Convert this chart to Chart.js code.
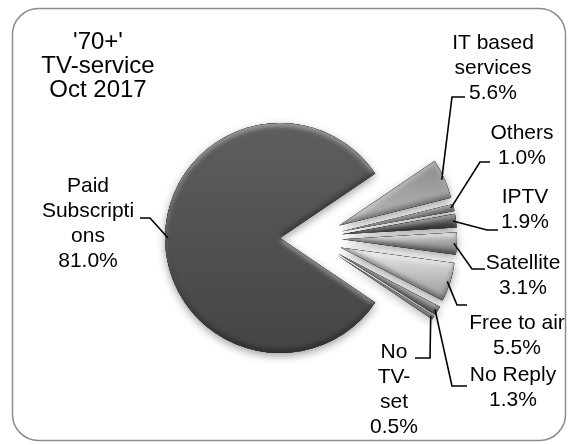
<!DOCTYPE html>
<html>
<head>
<meta charset="utf-8">
<script src="https://cdn.jsdelivr.net/npm/chart.js@4.4.0/dist/chart.umd.min.js"></script>
<style>
  html, body { margin: 0; padding: 0; background: #ffffff; }
  canvas { display: block; }
</style>
</head>
<body>
<canvas id="tvChart" width="572" height="445"></canvas>
<script>
// TV-service among people aged 70+, October 2017 (share of respondents, %)
const categories = ['Paid Subscriptions', 'IT based services', 'Others', 'IPTV', 'Satellite', 'Free to air', 'No Reply', 'No TV-set'];
const shares = [81.0, 5.6, 1.0, 1.9, 3.1, 5.5, 1.3, 0.5];
// how each category name wraps inside its label box
const wrappedNames = [['Paid', 'Subscripti', 'ons'], ['IT based', 'services'], ['Others'], ['IPTV'], ['Satellite'], ['Free to air'], ['No Reply'], ['No', 'TV-', 'set']];
const titleLines = ["'70+'", 'TV-service', 'Oct 2017'];

// ---- styling ----
const FONT = "21px 'Liberation Sans', Arial, sans-serif";
const TITLE_FONT = "24px 'Liberation Sans', Arial, sans-serif";
const LINE_H = 25;
const PIE_RADIUS = 115;
const EXPLODE = 31;          // distance every slice is pulled away from the pie centre, px
// top -> bottom shade of each slice
const sliceShades = [
  ['#5e5e5e', '#444444'],
  ['#8a8a8a', '#bababa'],
  ['#7c7c7c', '#b4b4b4'],
  ['#6a6a6a', '#3c3c3c'],
  ['#d2d2d2', '#6e6e6e'],
  ['#ececec', '#979797'],
  ['#a0a0a0', '#6e6e6e'],
  ['#bcbcbc', '#7e7e7e']
];
// label placement: text centre x, first line centre y, leader line points (text end first)
const labelLayout = [
  { x: 88,  y: 186, leader: [[140, 218], [150, 218]] },
  { x: 493, y: 43,  leader: [[465, 97], [452, 97]] },
  { x: 522, y: 133, leader: [[490, 162], [480, 162]] },
  { x: 525, y: 197, leader: [[498, 230], [487, 230]] },
  { x: 523, y: 263, leader: [[485, 269], [472, 269]] },
  { x: 517, y: 323, leader: [[467, 305], [457, 305]] },
  { x: 513, y: 375, leader: [[467, 386], [452, 386]] },
  { x: 394, y: 352, leader: [[415, 358], [430, 358]] }
];
const titleBox = { x: 98, y: 42 };

// ---- geometry helpers ----
const TAU = Math.PI * 2;
const total = shares.reduce((a, b) => a + b, 0);
// rotate so the gap left by the big slice opens straight to the right
const rotationDeg = 90 + (total - shares[0]) / total * 180;
const startRad = -Math.PI / 2 + rotationDeg * Math.PI / 180;
const sweep = shares.map(v => v / total * TAU);

function sliceAngles(i) {
  let a0 = startRad;
  for (let k = 0; k < i; k++) a0 += sweep[k];
  return [a0, a0 + sweep[i]];
}

function sliceFill(context) {
  const chart = context.chart;
  const area = chart.chartArea;
  const i = context.dataIndex;
  const pair = sliceShades[i];
  if (!area) return pair[0];
  const [a0, a1] = sliceAngles(i);
  const cy = (area.top + area.bottom) / 2 + Math.sin((a0 + a1) / 2) * EXPLODE;
  let lo = 0, hi = 0;
  for (let t = a0; t <= a1 + 1e-6; t += 0.005) {
    const s = Math.sin(t);
    if (s < lo) lo = s;
    if (s > hi) hi = s;
  }
  const g = chart.ctx.createLinearGradient(0, cy + PIE_RADIUS * lo, 0, cy + PIE_RADIUS * hi);
  g.addColorStop(0, pair[0]);
  g.addColorStop(1, pair[1]);
  return g;
}

function arcPath(ctx, arc) {
  ctx.moveTo(arc.x, arc.y);
  ctx.arc(arc.x, arc.y, arc.outerRadius, arc.startAngle, arc.endAngle);
  ctx.closePath();
}

// explode every slice outward along its own bisector, keeping its full angle and radius
const explodePlugin = {
  id: 'explode',
  afterDatasetUpdate(chart, args) {
    chart.getDatasetMeta(args.index).data.forEach(arc => {
      const mid = (arc.startAngle + arc.endAngle) / 2;
      arc.x += Math.cos(mid) * EXPLODE;
      arc.y += Math.sin(mid) * EXPLODE;
    });
  }
};

// frame, title, drop shadow, bevelled rims, leader lines and labels
const decorPlugin = {
  id: 'decor',
  beforeDraw(chart) {
    const ctx = chart.ctx;
    ctx.save();
    ctx.fillStyle = '#ffffff';
    ctx.fillRect(0, 0, chart.width, chart.height);
    ctx.strokeStyle = '#8c8c8c';
    ctx.lineWidth = 1.5;
    ctx.beginPath();
    ctx.roundRect(12.5, 8.5, 553, 432, 26);
    ctx.stroke();
    ctx.fillStyle = '#000';
    ctx.font = TITLE_FONT;
    ctx.textAlign = 'center';
    ctx.textBaseline = 'middle';
    titleLines.forEach((t, k) => ctx.fillText(t, titleBox.x, titleBox.y + k * 24));
    ctx.restore();
  },
  beforeDatasetsDraw(chart) {
    const ctx = chart.ctx;
    ctx.save();
    ctx.shadowColor = 'rgba(0,0,0,0.38)';
    ctx.shadowBlur = 8;
    ctx.shadowOffsetX = 0;
    ctx.shadowOffsetY = 3;
  },
  afterDatasetsDraw(chart) {
    const ctx = chart.ctx;
    ctx.restore();
    const arcs = chart.getDatasetMeta(0).data;
    // inner bevel: light from above, dark from below
    arcs.forEach(arc => {
      ctx.save();
      ctx.beginPath();
      arcPath(ctx, arc);
      ctx.clip();
      const frame = () => {
        ctx.beginPath();
        ctx.rect(-2000, -2000, 5000, 5000);
        arcPath(ctx, arc);
      };
      ctx.fillStyle = '#000';
      ctx.shadowBlur = 5;
      ctx.shadowOffsetX = 0;
      ctx.shadowColor = 'rgba(255,255,255,0.45)';
      ctx.shadowOffsetY = 3;
      frame();
      ctx.fill('evenodd');
      ctx.shadowColor = 'rgba(0,0,0,0.4)';
      ctx.shadowOffsetY = -3;
      frame();
      ctx.fill('evenodd');
      ctx.restore();
    });
    ctx.save();
    ctx.strokeStyle = '#000';
    ctx.lineWidth = 1.6;
    ctx.fillStyle = '#000';
    ctx.font = FONT;
    ctx.textAlign = 'center';
    ctx.textBaseline = 'middle';
    arcs.forEach((arc, i) => {
      const mid = (arc.startAngle + arc.endAngle) / 2;
      const r = arc.outerRadius - 3;
      const ax = arc.x + Math.cos(mid) * r;
      const ay = arc.y + Math.sin(mid) * r;
      const L = labelLayout[i];
      ctx.beginPath();
      ctx.moveTo(L.leader[0][0], L.leader[0][1]);
      ctx.lineTo(L.leader[1][0], L.leader[1][1]);
      ctx.lineTo(ax, ay);
      ctx.stroke();
      const lines = wrappedNames[i].concat([shares[i].toFixed(1) + '%']);
      lines.forEach((t, k) => ctx.fillText(t, L.x, L.y + k * LINE_H));
    });
    ctx.restore();
  }
};

new Chart(document.getElementById('tvChart'), {
  type: 'pie',
  data: {
    labels: categories,
    datasets: [{
      data: shares,
      radius: PIE_RADIUS,
      backgroundColor: sliceFill,
      borderWidth: 0
    }]
  },
  options: {
    responsive: false,
    animation: false,
    devicePixelRatio: 1,
    rotation: rotationDeg,
    layout: { padding: { left: 50, right: 0, top: 31, bottom: 0 } },
    plugins: {
      legend: { display: false },
      tooltip: { enabled: false }
    },
    events: []
  },
  plugins: [explodePlugin, decorPlugin]
});
</script>
</body>
</html>
